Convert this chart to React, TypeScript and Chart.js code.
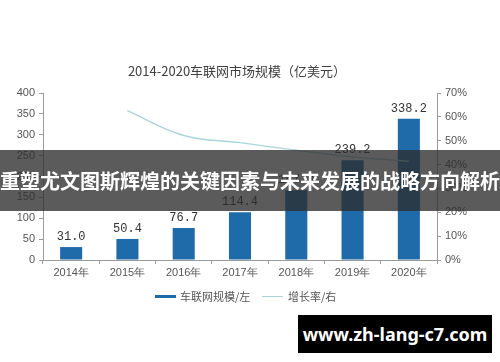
import React, { useEffect, useRef } from "react";
import { Chart, registerables } from "chart.js";

Chart.register(...registerables);

const categories = ["2014年", "2015年", "2016年", "2017年", "2018年", "2019年", "2020年"];
const marketSize = [31.0, 50.4, 76.7, 114.4, 167.0, 239.2, 338.2];
const growthRate = [null, 62.6, 52.2, 49.2, 46.0, 43.2, 41.4];
const leftTicks = [0, 50, 100, 150, 200, 250, 300, 350, 400];
const rightTicks = [0, 10, 20, 30, 40, 50, 60, 70];

const chartTitle = "2014-2020车联网市场规模（亿美元）";
const legendBar = "车联网规模/左";
const legendLine = "增长率/右";
const bannerText = "重塑尤文图斯辉煌的关键因素与未来发展的战略方向解析";
const siteText = "www.zh-lang-c7.com";

const BAR_COLOR = "#1f6aa9";
const LINE_COLOR = "#a9d6dd";
const TICK_FONT = { family: "'Liberation Sans', Arial, sans-serif", size: 11 };

const labelPlugin = {
  id: "barLabels",
  afterDatasetsDraw(chart: any) {
    const ctx = chart.ctx;
    const meta = chart.getDatasetMeta(0);
    ctx.save();
    ctx.font = "12px 'Liberation Mono', 'DejaVu Sans Mono', monospace";
    ctx.fillStyle = "#333";
    ctx.textAlign = "center";
    ctx.textBaseline = "bottom";
    meta.data.forEach((bar: any, i: number) => {
      ctx.fillText(marketSize[i].toFixed(1), bar.x, bar.y - 4);
    });
    ctx.restore();
  },
};

export default function App() {
  const ref = useRef<HTMLCanvasElement | null>(null);

  useEffect(() => {
    const prevMargin = document.body.style.margin;
    document.body.style.margin = "0";
    const chart = new Chart(ref.current as HTMLCanvasElement, {
      type: "bar",
      data: {
        labels: categories,
        datasets: [
          {
            type: "bar",
            label: legendBar,
            data: marketSize,
            backgroundColor: BAR_COLOR,
            yAxisID: "y",
            barPercentage: 0.8,
            categoryPercentage: 0.49,
            order: 2,
          },
          {
            type: "line",
            label: legendLine,
            data: growthRate as any,
            borderColor: LINE_COLOR,
            borderWidth: 1.5,
            pointRadius: 0,
            tension: 0.4,
            yAxisID: "y1",
            spanGaps: false,
            order: 1,
          },
        ],
      },
      options: {
        animation: false,
        responsive: false,
        maintainAspectRatio: false,
        layout: { padding: { top: 93, bottom: 82, left: 0, right: 0 } },
        plugins: {
          legend: { display: false },
          title: { display: false },
          tooltip: { enabled: false },
        },
        scales: {
          x: {
            offset: true,
            grid: { display: true, drawOnChartArea: false, offset: true, tickLength: 4, color: "#9a9a9a" },
            border: { display: true, color: "#9a9a9a" },
            ticks: { color: "#555", font: TICK_FONT, padding: 2 },
            afterFit: (s: any) => { s.height = 20; },
          },
          y: {
            position: "left",
            min: 0,
            max: 400,
            afterBuildTicks: (s: any) => { s.ticks = leftTicks.map((v) => ({ value: v })); },
            grid: { display: true, drawOnChartArea: false, tickLength: 4, color: "#9a9a9a" },
            border: { display: true, color: "#9a9a9a" },
            ticks: { color: "#555", font: TICK_FONT, padding: 4 },
            afterFit: (s: any) => { s.width = 43; },
          },
          y1: {
            position: "right",
            min: 0,
            max: 70,
            afterBuildTicks: (s: any) => { s.ticks = rightTicks.map((v) => ({ value: v })); },
            grid: { display: true, drawOnChartArea: false, tickLength: 4, color: "#9a9a9a" },
            border: { display: true, color: "#9a9a9a" },
            ticks: { color: "#555", font: TICK_FONT, padding: 4, callback: (v: any) => v + "%" },
            afterFit: (s: any) => { s.width = 63; },
          },
        },
      },
      plugins: [labelPlugin],
    });
    return () => {
      chart.destroy();
      document.body.style.margin = prevMargin;
    };
  }, []);

  const legendText: React.CSSProperties = {
    fontFamily: "'Noto Sans CJK SC', sans-serif",
    fontSize: 11,
    color: "#555",
    position: "absolute",
    top: 288,
    lineHeight: "16px",
    whiteSpace: "nowrap",
  };

  return (
    <div style={{ position: "fixed", left: 0, top: 0, width: 500, height: 362, background: "#fff", overflow: "hidden" }}>
      <canvas ref={ref} width={500} height={362} style={{ position: "absolute", left: 0, top: 0, width: 500, height: 362 }} />
      <div
        style={{
          position: "absolute",
          left: 0,
          width: 474,
          top: 62,
          textAlign: "center",
          fontFamily: "'Noto Sans CJK SC', sans-serif",
          fontSize: 13,
          color: "#404040",
          lineHeight: "18px",
          whiteSpace: "nowrap",
        }}
      >
        {chartTitle}
      </div>
      <div style={{ position: "absolute", left: 155, top: 295, width: 21, height: 3, background: BAR_COLOR }} />
      <div style={{ ...legendText, left: 180 }}>{legendBar}</div>
      <div style={{ position: "absolute", left: 262, top: 296, width: 21, height: 1, background: LINE_COLOR }} />
      <div style={{ ...legendText, left: 288 }}>{legendLine}</div>
      <div
        style={{
          position: "absolute",
          left: 0,
          top: 150,
          width: 500,
          height: 61,
          background: "rgba(45,45,45,0.78)",
          display: "flex",
          alignItems: "center",
          justifyContent: "center",
        }}
      >
        <span
          style={{
            color: "#fff",
            fontFamily: "'Noto Sans CJK SC', sans-serif",
            fontWeight: 700,
            fontSize: 20,
            whiteSpace: "nowrap",
            lineHeight: "24px",
          }}
        >
          {bannerText}
        </span>
      </div>
      <div
        style={{
          position: "absolute",
          left: 298,
          top: 315,
          width: 194,
          height: 38,
          background: "#000",
          display: "flex",
          alignItems: "center",
          justifyContent: "center",
        }}
      >
        <span
          style={{
            color: "#fff",
            fontFamily: "'Noto Sans', sans-serif",
            fontWeight: 700,
            fontSize: 18,
            whiteSpace: "nowrap",
          }}
        >
          {siteText}
        </span>
      </div>
    </div>
  );
}
